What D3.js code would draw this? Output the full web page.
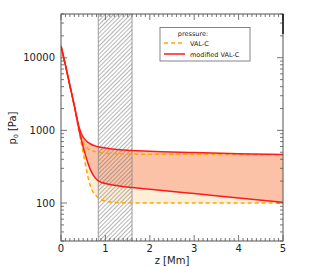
<!DOCTYPE html>
<html><head><meta charset="utf-8">
<script src="https://cdn.jsdelivr.net/npm/d3@7"></script>
<style>body{margin:0;background:#fff}svg{display:block}text{font-family:"DejaVu Sans",sans-serif}</style>
</head><body><svg id="c" width="334" height="268"></svg>
<script>
const zGrid      = [0, 0.1, 0.2, 0.3, 0.35, 0.4, 0.45, 0.5, 0.55, 0.6, 0.65, 0.7, 0.77, 0.84, 0.92, 1.0, 1.2, 1.6, 2, 3, 4, 5];
const modUpper   = [14600, 7900, 4150, 2180, 1560, 1150, 930, 810, 740, 690, 660, 635, 612, 595, 582, 570, 550, 530, 515, 495, 478, 465];
const modLower   = [14600, 7900, 4150, 2180, 1540, 1060, 780, 590, 460, 365, 300, 258, 222, 202, 192, 186, 176, 163, 155, 135, 117, 102];
const valcUpper  = [14600, 7900, 4150, 2180, 1540, 1080, 830, 690, 610, 565, 540, 525, 510, 500, 492, 487, 479, 472, 470, 467, 464, 462];
const valcLower  = [14600, 7900, 4150, 2180, 1520, 1010, 700, 490, 340, 240, 180, 150, 130, 118, 110, 106, 102, 100, 100, 100, 100, 100];
const hatchRange = [0.84, 1.6];
const xTicks = [0, 1, 2, 3, 4, 5];
const yTicks = [100, 1000, 10000];
const legendTitle = "pressure:";
const legendLabels = ["VAL-C", "modified VAL-C"];

const svg = d3.select("#c");
const L = 61, R = 283, T = 14, B = 241;
const x = d3.scaleLinear().domain([0, 5]).range([L, R]);
const y = d3.scaleLog().domain([30, 40000]).range([B, T]);

const defs = svg.append("defs");
defs.append("clipPath").attr("id", "clip").append("rect")
  .attr("x", L).attr("y", T).attr("width", R - L).attr("height", B - T);
const pat = defs.append("pattern").attr("id", "hatch").attr("patternUnits", "userSpaceOnUse")
  .attr("width", 3).attr("height", 3).attr("patternTransform", "rotate(45)");
pat.append("line").attr("x1", 0).attr("y1", 0).attr("x2", 0).attr("y2", 3)
  .attr("stroke", "#5e5e5e").attr("stroke-width", 1.1);

const g = svg.append("g").attr("clip-path", "url(#clip)");
const idx = d3.range(zGrid.length);
const area = (lo, hi) => d3.area().x(i => x(zGrid[i])).y0(i => y(lo[i])).y1(i => y(hi[i])).curve(d3.curveMonotoneX);
const line = (v) => d3.line().x(i => x(zGrid[i])).y(i => y(v[i])).curve(d3.curveMonotoneX);

g.append("path").attr("d", area(valcLower, valcUpper)(idx)).attr("fill", "#fdeed8");
g.append("path").attr("d", area(modLower, modUpper)(idx)).attr("fill", "#fcc2a8");

// hatched region
g.append("rect").attr("x", x(hatchRange[0])).attr("y", T).attr("width", x(hatchRange[1]) - x(hatchRange[0]))
  .attr("height", B - T).attr("fill", "url(#hatch)").attr("opacity", 0.85);
[hatchRange[0], hatchRange[1]].forEach(v => g.append("line").attr("x1", x(v)).attr("x2", x(v)).attr("y1", T).attr("y2", B)
  .attr("stroke", "#888").attr("stroke-width", 0.8));

[valcUpper, valcLower].forEach(v => g.append("path").attr("d", line(v)(idx)).attr("fill", "none")
  .attr("stroke", "#ffa500").attr("stroke-width", 1.5).attr("stroke-dasharray", "4,3"));
[modUpper, modLower].forEach(v => g.append("path").attr("d", line(v)(idx)).attr("fill", "none")
  .attr("stroke", "#ff1a1a").attr("stroke-width", 1.5));

// axes ticks (inside, all sides)
const tc = "#555";
const ax = svg.append("g").attr("stroke", tc).attr("stroke-width", 0.8);
d3.range(0, 5.0001, 0.1).forEach(v => {
  const major = Math.abs(v - Math.round(v)) < 1e-6;
  const len = major ? 6 : 3;
  ax.append("line").attr("x1", x(v)).attr("x2", x(v)).attr("y1", B).attr("y2", B - len);
  ax.append("line").attr("x1", x(v)).attr("x2", x(v)).attr("y1", T).attr("y2", T + len);
});
const yMinor = [];
[10, 100, 1000, 10000].forEach(d => { for (let k = 1; k < 10; k++) { const v = d * k; if (v >= 30 && v <= 40000) yMinor.push(v); } });
yMinor.forEach(v => {
  const major = yTicks.includes(v);
  const len = major ? 6 : 3;
  ax.append("line").attr("x1", L).attr("x2", L + len).attr("y1", y(v)).attr("y2", y(v));
  ax.append("line").attr("x1", R).attr("x2", R - len).attr("y1", y(v)).attr("y2", y(v));
});
svg.append("rect").attr("x", L).attr("y", T).attr("width", R - L).attr("height", B - T)
  .attr("fill", "none").attr("stroke", tc).attr("stroke-width", 1);
svg.append("line").attr("x1", R).attr("x2", R).attr("y1", T).attr("y2", 34).attr("stroke", "#000").attr("stroke-width", 1.3);

// tick labels
svg.append("g").selectAll("text").data(xTicks).join("text")
  .attr("x", d => x(d)).attr("y", 252).attr("text-anchor", "middle").attr("font-size", 10).attr("fill", "#222").text(d => d);
svg.append("g").selectAll("text").data(yTicks).join("text")
  .attr("x", 55).attr("y", d => y(d) + 3.6).attr("text-anchor", "end").attr("font-size", 10).attr("fill", "#222").text(d => d);

// axis labels
svg.append("text").attr("x", 172).attr("y", 264).attr("text-anchor", "middle").attr("font-size", 10).attr("fill", "#222").text("z [Mm]");
const yl = svg.append("text").attr("transform", "translate(16,128) rotate(-90)").attr("text-anchor", "middle")
  .attr("font-size", 10).attr("fill", "#222");
yl.append("tspan").text("p");
yl.append("tspan").attr("font-size", 6).attr("dy", 2).text("0");
yl.append("tspan").attr("dy", -2).text(" [Pa]");

// legend
const lg = svg.append("g");
lg.append("rect").attr("x", 160).attr("y", 27.5).attr("width", 90).attr("height", 33.5)
  .attr("fill", "#fff").attr("stroke", "#666").attr("stroke-width", 0.8);
lg.append("text").attr("x", 193).attr("y", 35.5).attr("text-anchor", "middle").attr("font-size", 6.5).attr("fill", "#222").text(legendTitle);
lg.append("line").attr("x1", 164).attr("x2", 185).attr("y1", 43).attr("y2", 43)
  .attr("stroke", "#ffa500").attr("stroke-width", 1.5).attr("stroke-dasharray", "4,3");
lg.append("line").attr("x1", 164).attr("x2", 185).attr("y1", 54).attr("y2", 54)
  .attr("stroke", "#ff1a1a").attr("stroke-width", 1.5);
lg.append("text").attr("x", 190).attr("y", 45.5).attr("font-size", 6.5).attr("fill", "#222").text(legendLabels[0]);
lg.append("text").attr("x", 190).attr("y", 56.5).attr("font-size", 6.5).attr("fill", "#222").text(legendLabels[1]);
</script></body></html>
